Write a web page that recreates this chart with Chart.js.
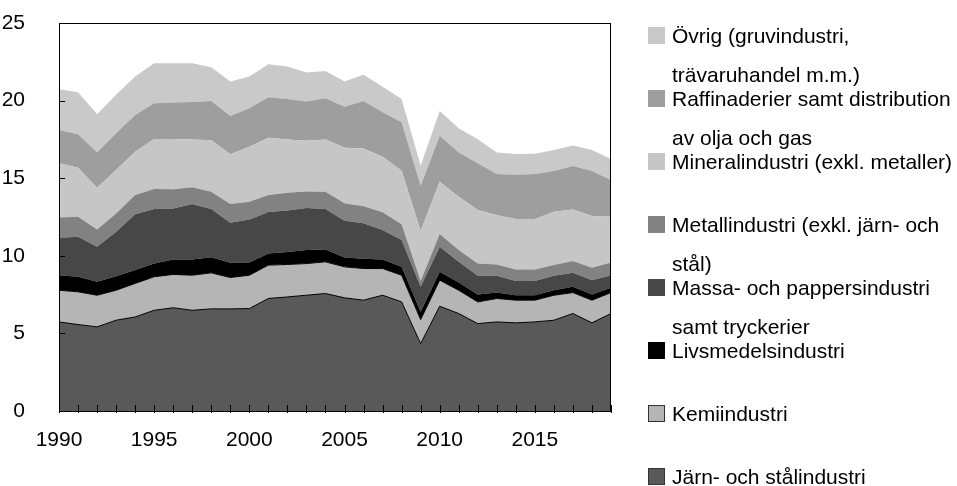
<!DOCTYPE html>
<html>
<head>
<meta charset="utf-8">
<script src="https://cdn.jsdelivr.net/npm/chart.js@4/dist/chart.umd.min.js"></script>
<style>
  body { margin: 0; background: #fff; }
  #wrap { position: relative; width: 957px; height: 486px; }
  .lg-box { position: absolute; width: 17px; height: 17px; box-sizing: border-box; }
  .lg-text { position: absolute; left: 672px; font: 21px "Liberation Sans", Arial, sans-serif; line-height: 39px; color: #000; white-space: nowrap; }
</style>
</head>
<body>
<div id="wrap">
  <canvas id="chart" width="957" height="486"></canvas>
  <div id="legend"></div>
</div>
<script>
const years = [1990, 1991, 1992, 1993, 1994, 1995, 1996, 1997, 1998, 1999,
  2000, 2001, 2002, 2003, 2004, 2005, 2006, 2007, 2008, 2009,
  2010, 2011, 2012, 2013, 2014, 2015, 2016, 2017, 2018, 2019];

const yTicks = [0, 5, 10, 15, 20, 25];

// stacked bottom -> top
const jarnStal = [5.74, 5.57, 5.42, 5.85, 6.06, 6.49, 6.65, 6.49, 6.58, 6.58,
  6.60, 7.25, 7.35, 7.46, 7.57, 7.29, 7.14, 7.46, 7.03, 4.34,
  6.75, 6.28, 5.63, 5.74, 5.68, 5.74, 5.85, 6.28, 5.68, 6.28];
const kemi = [2.04, 2.11, 2.04, 1.93, 2.16, 2.16, 2.15, 2.26, 2.32, 2.02,
  2.15, 2.15, 2.09, 2.04, 2.04, 2.00, 2.04, 1.72, 1.72, 1.55,
  1.68, 1.50, 1.40, 1.51, 1.46, 1.40, 1.61, 1.35, 1.46, 1.35];
const livsmedel = [0.97, 0.97, 0.86, 0.91, 0.86, 0.85, 0.96, 1.01, 1.00, 0.95,
  0.82, 0.75, 0.80, 0.87, 0.80, 0.60, 0.63, 0.58, 0.54, 0.50,
  0.54, 0.50, 0.48, 0.38, 0.32, 0.32, 0.32, 0.37, 0.37, 0.31];
const massaPapper = [2.41, 2.58, 2.26, 2.86, 3.59, 3.51, 3.29, 3.57, 3.11, 2.58,
  2.77, 2.67, 2.68, 2.71, 2.60, 2.37, 2.28, 1.90, 1.72, 1.61,
  1.61, 1.33, 1.20, 1.08, 0.91, 0.91, 0.93, 0.90, 0.92, 0.81];
const metall = [1.31, 1.29, 1.12, 1.18, 1.24, 1.29, 1.23, 1.08, 1.12, 1.20,
  1.14, 1.09, 1.14, 1.07, 1.12, 1.12, 1.11, 1.14, 1.03, 0.37,
  0.82, 0.76, 0.80, 0.73, 0.75, 0.75, 0.69, 0.76, 0.80, 0.82];
const mineral = [3.49, 3.16, 2.69, 2.80, 2.80, 3.23, 3.25, 3.09, 3.31, 3.21,
  3.55, 3.70, 3.44, 3.27, 3.37, 3.59, 3.72, 3.59, 3.44, 3.22,
  3.37, 3.44, 3.44, 3.18, 3.25, 3.25, 3.44, 3.33, 3.33, 2.95];
const raffinaderier = [2.15, 2.15, 2.28, 2.36, 2.37, 2.30, 2.34, 2.41, 2.54, 2.47,
  2.47, 2.61, 2.61, 2.52, 2.65, 2.64, 3.06, 2.86, 3.12, 2.93,
  2.97, 2.84, 3.01, 2.65, 2.86, 2.90, 2.62, 2.79, 2.90, 2.36];
const ovrig = [2.62, 2.71, 2.45, 2.48, 2.47, 2.58, 2.54, 2.50, 2.17, 2.22,
  2.05, 2.12, 2.08, 1.87, 1.76, 1.62, 1.68, 1.65, 1.51, 1.29,
  1.59, 1.57, 1.55, 1.38, 1.33, 1.31, 1.36, 1.32, 1.36, 1.36];

const series = [
  { label: 'Järn- och stålindustri', data: jarnStal, color: '#595959', border: true },
  { label: 'Kemiindustri', data: kemi, color: '#b5b5b5', border: true },
  { label: 'Livsmedelsindustri', data: livsmedel, color: '#000000', border: false },
  { label: 'Massa- och pappersindustri samt tryckerier', data: massaPapper, color: '#474747', border: false },
  { label: 'Metallindustri (exkl. järn- och stål)', data: metall, color: '#828282', border: false },
  { label: 'Mineralindustri (exkl. metaller)', data: mineral, color: '#c6c6c6', border: false },
  { label: 'Raffinaderier samt distribution av olja och gas', data: raffinaderier, color: '#9e9e9e', border: false },
  { label: 'Övrig (gruvindustri, trävaruhandel m.m.)', data: ovrig, color: '#c9c9c9', border: false }
];

// legend lines, top entry first
const legendLines = [
  ['Övrig (gruvindustri,', 'trävaruhandel m.m.)'],
  ['Raffinaderier samt distribution', 'av olja och gas'],
  ['Mineralindustri (exkl. metaller)'],
  ['Metallindustri (exkl. järn- och', 'stål)'],
  ['Massa- och pappersindustri', 'samt tryckerier'],
  ['Livsmedelsindustri'],
  ['Kemiindustri'],
  ['Järn- och stålindustri']
];

const FONT = '"Liberation Sans", Arial, sans-serif';

const frame = {
  id: 'frame',
  afterDatasetsDraw(chart) {
    const { ctx, chartArea: a, scales } = chart;
    ctx.save();
    ctx.strokeStyle = '#000';
    ctx.lineWidth = 1;
    ctx.strokeRect(Math.round(a.left) + 0.5, Math.round(a.top) + 0.5,
      Math.round(a.right - a.left) - 1, Math.round(a.bottom - a.top));
    ctx.beginPath();
    years.forEach((y, i) => {
      const x = Math.round(scales.x.getPixelForValue(i)) + 0.5;
      ctx.moveTo(x, a.bottom - 6);
      ctx.lineTo(x, a.bottom + 2);
    });
    yTicks.forEach(v => {
      const y = Math.round(scales.y.getPixelForValue(v)) + 0.5;
      ctx.moveTo(a.left, y);
      ctx.lineTo(a.left + 6, y);
    });
    ctx.stroke();
    ctx.restore();
  }
};

new Chart(document.getElementById('chart'), {
  type: 'line',
  data: {
    labels: years,
    datasets: series.map((s, i) => ({
      label: s.label,
      data: s.data,
      backgroundColor: s.color,
      borderColor: '#000',
      borderWidth: s.border ? 1 : 0,
      fill: i === 0 ? 'origin' : '-1',
      pointRadius: 0,
      tension: 0
    }))
  },
  options: {
    responsive: false,
    animation: false,
    layout: { padding: { left: 0, right: 346, top: 23, bottom: 0 } },
    plugins: { legend: { display: false }, tooltip: { enabled: false } },
    scales: {
      x: {
        offset: false,
        grid: { display: false },
        border: { display: false },
        ticks: {
          autoSkip: false,
          maxRotation: 0,
          padding: 9,
          color: '#000',
          font: { family: FONT, size: 21 },
          callback: (v, i) => (years[i] % 5 === 0 ? String(years[i]) : '')
        },
        afterFit: s => { s.height = 75; }
      },
      y: {
        stacked: true,
        min: 0,
        max: 25,
        grid: { display: false },
        border: { display: false },
        ticks: {
          stepSize: 5,
          padding: 26,
          color: '#000',
          font: { family: FONT, size: 21 }
        },
        afterFit: s => { s.width = 59; s.paddingTop = 0; s.paddingBottom = 0; }
      }
    }
  },
  plugins: [frame]
});

// legend
const legend = document.getElementById('legend');
legendLines.forEach((lines, i) => {
  const c = 35 + 63 * i;
  const s = series[series.length - 1 - i];
  const box = document.createElement('div');
  box.className = 'lg-box';
  box.style.left = '648px';
  box.style.top = (c - 8) + 'px';
  box.style.background = s.color;
  if (s.border) box.style.border = '1px solid #333';
  legend.appendChild(box);
  const txt = document.createElement('div');
  txt.className = 'lg-text';
  txt.style.top = (c - 19) + 'px';
  txt.innerHTML = lines.join('<br>');
  legend.appendChild(txt);
});
</script>
</body>
</html>
